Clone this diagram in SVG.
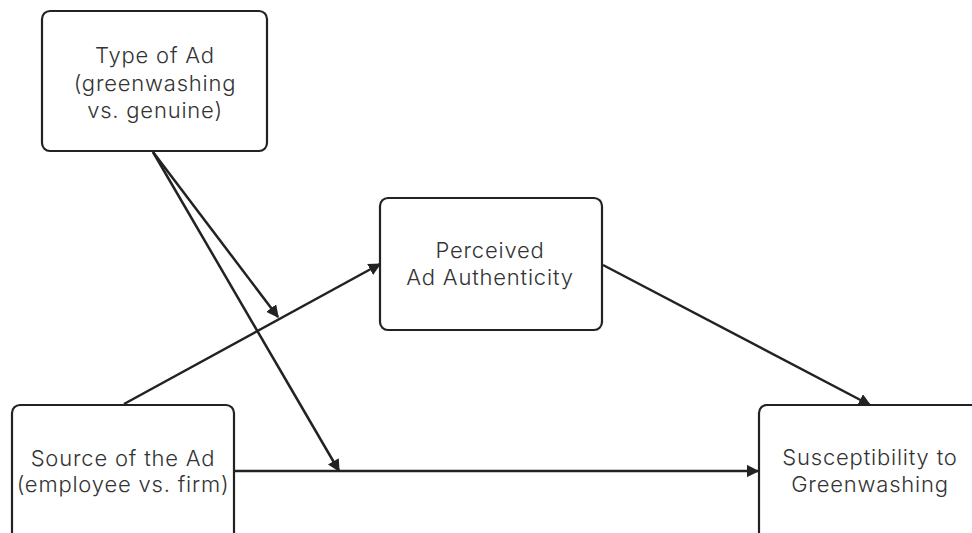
<svg xmlns="http://www.w3.org/2000/svg" width="972" height="533" viewBox="0 0 972 533">
<defs>
<marker id="ah" viewBox="0 0 10 10" refX="9" refY="5" markerWidth="5" markerHeight="5" orient="auto" markerUnits="strokeWidth">
<path d="M0,0 L10,5 L0,10 z" fill="#222"/>
</marker>
<style>
.box{fill:#fff;stroke:#222;stroke-width:2.2}
.t{font-family:Inter,"Noto Sans",sans-serif;font-size:22px;font-weight:300;letter-spacing:0.8px;fill:#333;text-anchor:middle}
.c{fill:none;stroke:#222;stroke-width:2.5;marker-end:url(#ah)}
</style>
</defs>
<rect width="972" height="533" fill="#fff"/>
<g id="type">
<rect class="box" x="42" y="11" width="225" height="140" rx="8"/>
<text class="t" x="155" y="63">Type of Ad</text>
<text class="t" x="155" y="91">(greenwashing</text>
<text class="t" x="155" y="118">vs. genuine)</text>
</g>
<g id="perceived">
<rect class="box" x="380" y="198" width="222" height="132" rx="8"/>
<text class="t" x="490" y="258">Perceived</text>
<text class="t" x="490" y="285">Ad Authenticity</text>
</g>
<g id="source">
<rect class="box" x="12" y="405" width="222" height="150" rx="8"/>
<text class="t" x="123" y="466">Source of the Ad</text>
<text class="t" x="123" y="492">(employee vs. firm)</text>
</g>
<g id="susceptibility">
<rect class="box" x="759" y="405" width="240" height="150" rx="8"/>
<text class="t" x="870" y="465">Susceptibility to</text>
<text class="t" x="870" y="492">Greenwashing</text>
</g>
<g id="connectors">
<line class="c" x1="153" y1="152" x2="278" y2="317"/>
<line class="c" x1="153" y1="152" x2="339" y2="471"/>
<line class="c" x1="124" y1="404" x2="380" y2="264"/>
<line class="c" x1="603" y1="265" x2="870" y2="405"/>
<line class="c" x1="234" y1="471" x2="758" y2="471"/>
</g>
</svg>
